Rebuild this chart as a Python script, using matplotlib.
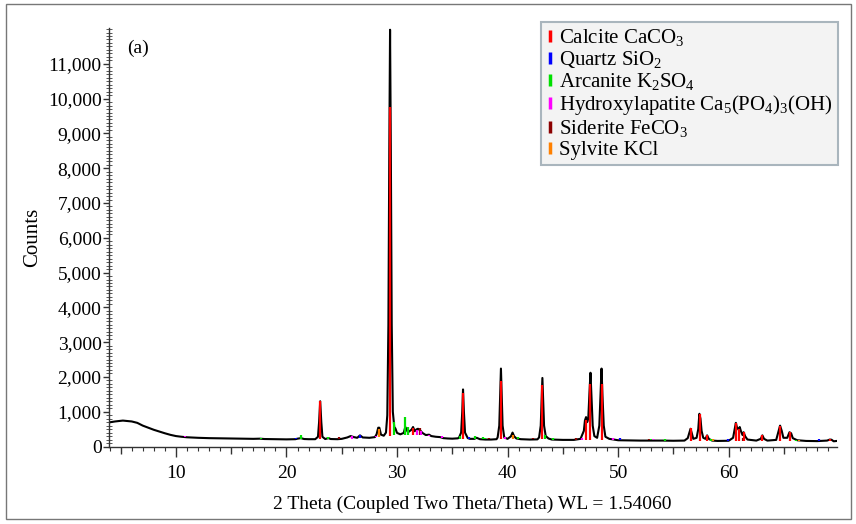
import matplotlib
matplotlib.use("Agg")
import matplotlib.pyplot as plt
import numpy as np
from matplotlib.lines import Line2D
from matplotlib.patches import Rectangle
from matplotlib.ticker import FuncFormatter, MultipleLocator, FixedLocator

plt.rcParams["font.family"] = ["Liberation Serif", "DejaVu Serif"]
plt.rcParams["mathtext.fontset"] = "custom"
plt.rcParams["mathtext.rm"] = "Liberation Serif"
plt.rcParams["mathtext.it"] = "Liberation Serif:italic"

# Measured diffraction pattern: 2-theta (deg) and counts
two_theta = [
    3.9, 4.5, 5.2, 6.0, 6.5, 7.0, 7.5, 8.0, 8.5, 9.0, 9.5, 10.0, 10.5, 11.0,
    12.0, 13.0, 14.0, 15.0, 16.0, 17.0, 17.6, 18.0, 19.0, 20.0, 20.8, 21.0,
    21.3, 21.6, 22.0, 22.6, 22.85, 22.95, 23.05, 23.15, 23.25, 23.5, 23.8,
    24.0, 24.6, 25.0, 25.5, 25.8, 26.1, 26.4, 26.65, 26.9, 27.5, 28.0, 28.15,
    28.3, 28.4, 28.55, 28.8, 29.0, 29.12, 29.22, 29.3, 29.37, 29.44, 29.52,
    29.62, 29.75, 29.85, 30.0, 30.3, 30.6, 30.75, 30.85, 31.0, 31.3, 31.45,
    31.6, 31.75, 31.9, 32.1, 32.3, 32.6, 32.9, 33.1, 33.5, 33.9, 34.2, 34.6,
    35.0, 35.5, 35.6, 35.8, 35.9, 35.97, 36.05, 36.15, 36.4, 36.6, 37.0,
    37.2, 37.5, 38.0, 38.5, 39.0, 39.1, 39.25, 39.33, 39.4, 39.47, 39.55,
    39.7, 40.0, 40.3, 40.45, 40.6, 40.8, 41.2, 42.0, 42.7, 42.85, 43.0,
    43.08, 43.15, 43.22, 43.3, 43.45, 43.7, 44.0, 45.0, 46.0, 46.6, 46.9,
    47.0, 47.1, 47.2, 47.3, 47.4, 47.5, 47.58, 47.7, 47.85, 48.1, 48.3,
    48.4, 48.5, 48.58, 48.7, 48.85, 49.2, 50.0, 51.0, 52.0, 53.0, 54.0,
    55.0, 56.0, 56.3, 56.45, 56.55, 56.65, 56.8, 57.1, 57.25, 57.35, 57.45,
    57.55, 57.7, 57.9, 58.05, 58.2, 58.5, 59.0, 60.0, 60.4, 60.55, 60.65,
    60.75, 60.9, 61.0, 61.1, 61.25, 61.35, 61.5, 61.7, 62.5, 62.9, 63.05,
    63.2, 63.5, 64.3, 64.5, 64.65, 64.8, 64.95, 65.3, 65.5, 65.65, 65.8,
    66.2, 67.0, 68.0, 68.9, 69.15, 69.3, 69.5, 69.8,
]
counts = [
    690, 720, 745, 720, 680, 600, 540, 480, 430, 380, 335, 300, 280, 265,
    250, 240, 235, 230, 225, 220, 225, 215, 210, 205, 210, 225,
    240, 215, 210, 210, 280, 700, 1300, 700, 280, 215, 240,
    215, 210, 220, 260, 300, 270, 250, 320, 260, 250, 270, 350,
    540, 540, 340, 310, 400, 900, 3500, 8500, 11980, 8500, 3500,
    1000, 560, 520, 390, 350, 390, 560, 480, 410, 480, 560,
    440, 490, 510, 460, 390, 330, 340, 300, 280, 270, 240, 230,
    225, 235, 250, 400, 1000, 1640, 1000, 400, 240, 220, 220,
    250, 210, 200, 200, 210, 260, 600, 1500, 2240, 1500, 600,
    260, 220, 290, 400, 290, 230, 210, 200, 205, 260, 600,
    1300, 1970, 1300, 600, 300, 230, 200, 190, 190, 220, 450,
    750, 845, 700, 800, 1500, 2120, 1500, 600, 300, 250, 600,
    1400, 2240, 1500, 600, 280, 220, 180, 175, 170, 170, 170,
    165, 170, 240, 400, 510, 400, 220, 250, 500, 940, 800,
    450, 250, 220, 320, 220, 170, 160, 165, 250, 500, 680,
    550, 480, 560, 450, 330, 410, 290, 200, 170, 220, 320,
    220, 170, 190, 420, 600, 450, 250, 250, 410, 380, 240,
    180, 160, 155, 170, 200, 195, 150, 160,
]

# Background level under the pattern, where the phase sticks start
bg_theta = [3.9, 6.0, 8.0, 10.0, 12.0, 15.0, 20.0, 25.0, 28.0, 30.0, 32.0,
            34.0, 36.0, 40.0, 45.0, 50.0, 55.0, 60.0, 65.0, 69.8]
bg_counts = [690, 720, 480, 300, 250, 230, 205, 215, 260, 340, 340,
             250, 225, 215, 195, 180, 170, 165, 160, 155]

# Reference stick patterns: position and top of each stick (counts)
calcite_pos = [23.05, 29.40, 31.42, 35.97, 39.40, 43.15, 47.10, 47.50, 48.50,
               56.55, 57.38, 58.05, 60.65, 60.95, 61.35, 63.05, 64.65, 65.55, 69.15]
calcite_top = [1300, 9770, 530, 1530, 1880, 1760, 750, 1810, 1810,
               530, 920, 320, 670, 500, 410, 320, 600, 410, 210]

quartz_pos = [20.86, 26.64, 36.54, 50.14, 59.96, 68.14]
quartz_top = [250, 330, 270, 230, 220, 210]

arcanite_pos = [17.65, 21.35, 23.75, 29.70, 30.75, 30.95, 35.70, 37.05,
                37.75, 37.95, 40.90, 43.35, 44.10, 53.00, 54.20, 58.40, 66.10]
arcanite_top = [250, 340, 270, 700, 840, 570, 290, 300,
                260, 250, 260, 320, 230, 220, 220, 210, 200]

apatite_pos = [10.85, 25.90, 28.10, 31.80, 32.20, 32.90, 34.05, 39.80,
               46.70, 49.50, 53.20]
apatite_top = [310, 300, 300, 480, 440, 330, 290, 260, 250, 240, 220]

siderite_pos = [24.75, 32.05, 38.30, 42.30, 46.20, 52.80, 61.30]
siderite_top = [260, 520, 240, 240, 240, 220, 230]

sylvite_pos = [28.35, 40.50, 50.20, 58.60, 66.40]
sylvite_top = [510, 330, 240, 210, 200]

phase_labels = [
    r"Calcite CaCO$_\mathrm{3}$",
    r"Quartz SiO$_\mathrm{2}$",
    r"Arcanite K$_\mathrm{2}$SO$_\mathrm{4}$",
    r"Hydroxylapatite Ca$_\mathrm{5}$(PO$_\mathrm{4}$)$_\mathrm{3}$(OH)",
    r"Siderite FeCO$_\mathrm{3}$",
    r"Sylvite KCl",
]
phase_colors = ["#ff0000", "#0000ff", "#00e000", "#ff00ff", "#8b0000", "#ff8000"]
phase_data = [
    (calcite_pos, calcite_top),
    (quartz_pos, quartz_top),
    (arcanite_pos, arcanite_top),
    (apatite_pos, apatite_top),
    (siderite_pos, siderite_top),
    (sylvite_pos, sylvite_top),
]

y_ticks = list(range(0, 11001, 1000))

fig = plt.figure(figsize=(8.56, 5.24), dpi=100)
ax = fig.add_axes([108.5 / 856, 1 - 446.5 / 524, (837 - 108.5) / 856, (446.5 - 28) / 524])

ax.plot(two_theta, counts, color="black", lw=1.5, zorder=2)

# minor phases first, calcite drawn last on top
for (pos, top), col in list(zip(phase_data, phase_colors))[::-1]:
    base = np.interp(pos, bg_theta, bg_counts)
    ax.vlines(pos, base, top, colors=col, lw=1.6, zorder=3)

ax.set_xlim(3.9, 69.8)
ax.set_ylim(0, 12030)

for side in ("top", "right"):
    ax.spines[side].set_visible(False)
for side in ("left", "bottom"):
    ax.spines[side].set_color("#333333")
    ax.spines[side].set_linewidth(1.0)

ax.xaxis.set_major_locator(MultipleLocator(5))
ax.xaxis.set_minor_locator(MultipleLocator(1))
ax.xaxis.set_major_formatter(FuncFormatter(lambda v, p: f"{int(round(v))}" if round(v) % 10 == 0 else ""))
ax.yaxis.set_major_locator(FixedLocator(y_ticks))
ax.yaxis.set_minor_locator(MultipleLocator(100))
ax.yaxis.set_major_formatter(FuncFormatter(lambda v, p: f"{int(round(v)):,}"))

ax.tick_params(axis="x", which="major", direction="out", length=7, width=1, color="#333333",
               labelsize=14, pad=6)
ax.tick_params(axis="x", which="minor", direction="out", length=3, width=0.8, color="#333333")
ax.tick_params(axis="y", which="major", direction="out", length=4, width=1, color="#333333",
               labelsize=14, pad=1)
ax.tick_params(axis="y", which="minor", direction="inout", length=4, width=0.7, color="#555555")

fig.canvas.draw()
for tick in ax.xaxis.get_major_ticks():
    loc = tick.get_loc()
    if round(loc) % 10 != 0:
        tick.tick1line.set_markersize(5)

ax.set_xlabel("2 Theta (Coupled Two Theta/Theta) WL = 1.54060", fontsize=14, labelpad=10)
ax.set_ylabel("Counts", fontsize=15, labelpad=4)

ax.text(0.025, 0.972, "(a)", transform=ax.transAxes, fontsize=14, va="top", ha="left")

handles = [Line2D([], [], ls="none", marker="|", markersize=9, markeredgewidth=2.5, color=c)
           for c in phase_colors]
leg = ax.legend(handles, phase_labels, loc="upper right",
                bbox_to_anchor=(838 / 856, 1 - 22 / 524), bbox_transform=fig.transFigure,
                borderaxespad=0, fontsize=15, handlelength=0.35, handletextpad=0.25,
                labelspacing=0.05, borderpad=0.25, fancybox=False, framealpha=1)
leg.get_frame().set_facecolor("#f3f3f3")
leg.get_frame().set_edgecolor("#a9b5bd")
leg.get_frame().set_linewidth(1.5)

fig.patches.append(Rectangle((6 / 856, 1 - 519 / 524), 845 / 856, 515 / 524,
                             transform=fig.transFigure, fill=False,
                             edgecolor="#777777", lw=1.0))

fig.savefig("out.png", dpi=100)
